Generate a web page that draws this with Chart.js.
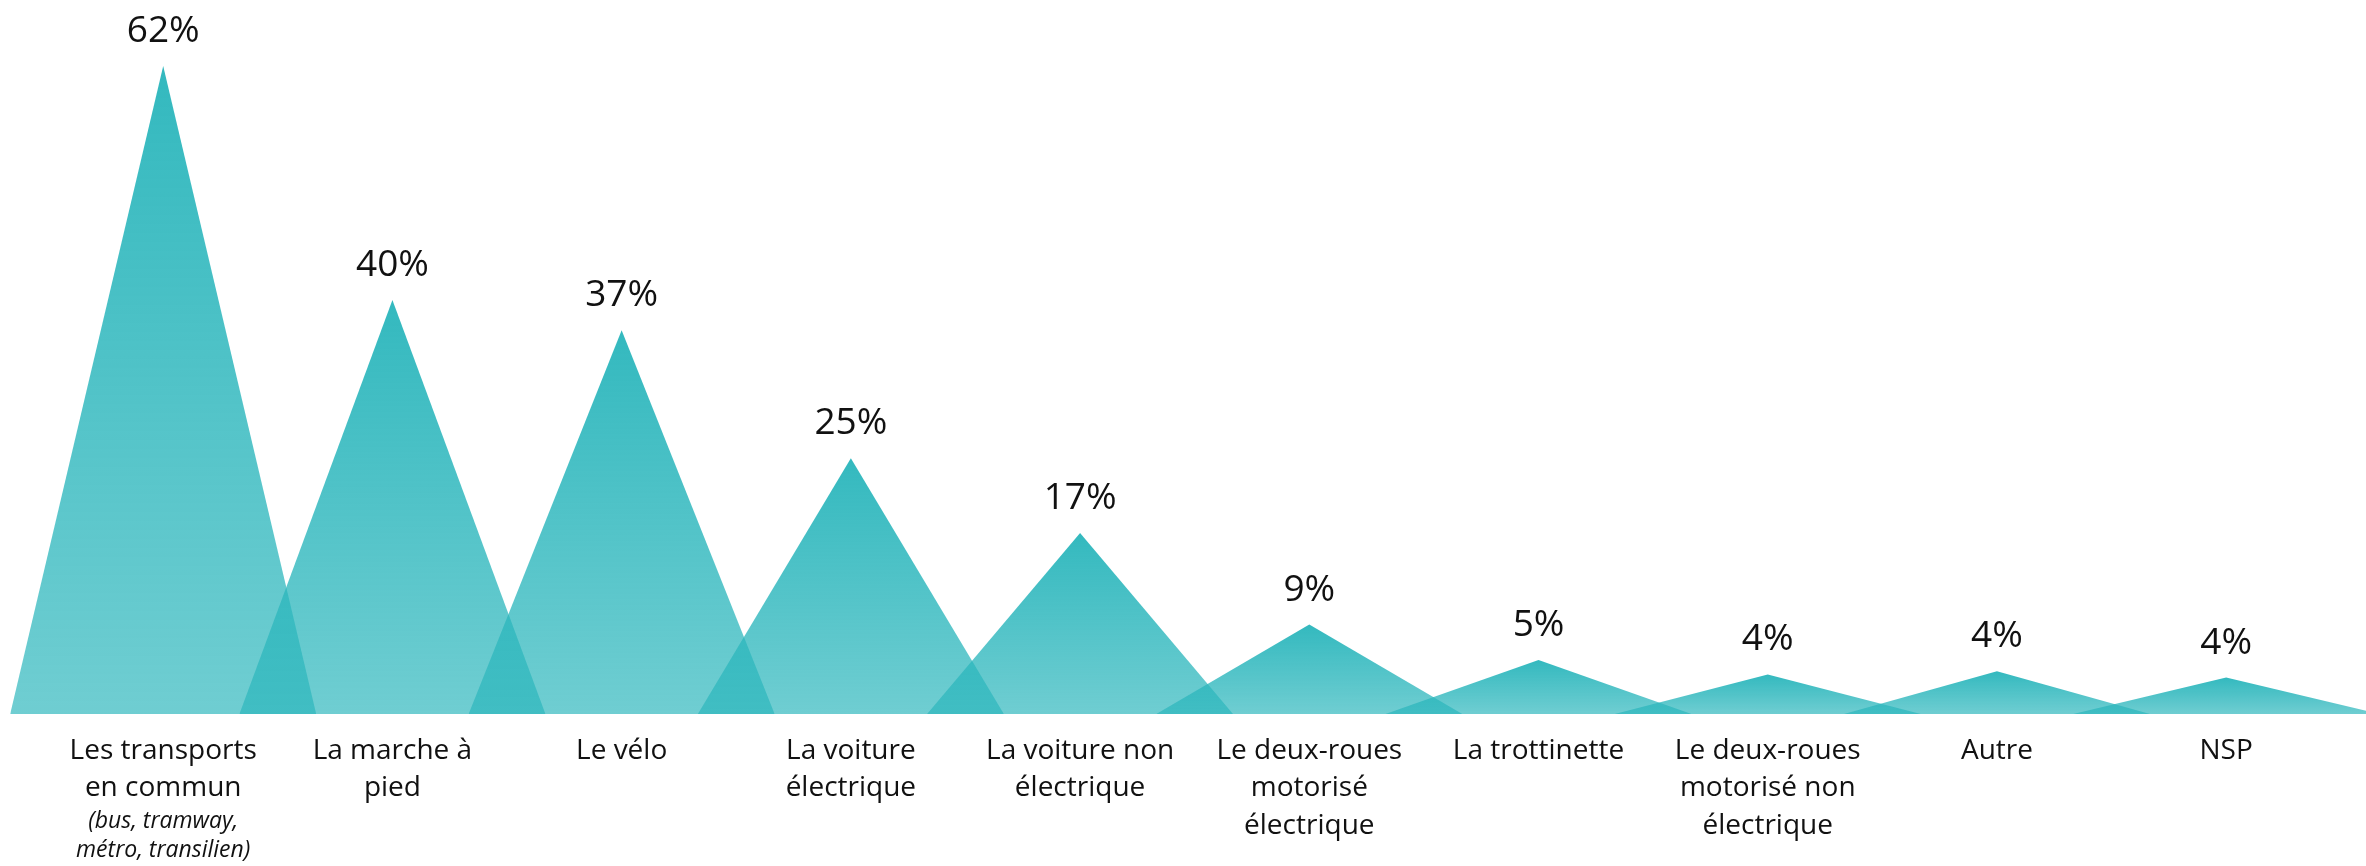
<!DOCTYPE html>
<html lang="fr">
<head>
<meta charset="utf-8">
<title>Modes de transport</title>
<script src="https://cdn.jsdelivr.net/npm/chart.js@4.4.1/dist/chart.umd.min.js"></script>
<style>
  html, body { margin: 0; padding: 0; background: #fff; }
  #wrap { width: 2366px; height: 866px; position: relative; }
</style>
</head>
<body>
<div id="wrap"><canvas id="chart"></canvas></div>
<script>
const categories = [
    ["Les transports", "en commun"],
    ["La marche à", "pied"],
    ["Le vélo"],
    ["La voiture", "électrique"],
    ["La voiture non", "électrique"],
    ["Le deux-roues", "motorisé", "électrique"],
    ["La trottinette"],
    ["Le deux-roues", "motorisé non", "électrique"],
    ["Autre"],
    ["NSP"]
];
// italic note under the first category
const subLabel = ["(bus, tramway,", "métro, transilien)"];
// shares in %, read from the triangle heights (labels are rounded)
const values = [62.3, 39.8, 36.9, 24.6, 17.4, 8.6, 5.2, 3.8, 4.1, 3.5];

const HALF = 0.6675; // half base of a triangle, in category units
const FONT = "'Open Sans', sans-serif";

function triangleFill(context) {
    const chart = context.chart;
    const area = chart.chartArea;
    if (!area) return "rgba(43,182,188,0.8)";
    const v = values[context.datasetIndex];
    const yScale = chart.scales.y;
    const top = yScale.getPixelForValue(v);
    const bottom = yScale.getPixelForValue(0);
    const g = chart.ctx.createLinearGradient(0, top, 0, bottom);
    g.addColorStop(0, "rgba(43,182,188,0.96)");
    g.addColorStop(1, "rgba(43,182,188,0.68)");
    return g;
}

const datasets = values.map((v, i) => ({
    data: [
        { x: i - HALF, y: 0 },
        { x: i, y: v },
        { x: i + HALF, y: 0 }
    ],
    fill: "origin",
    backgroundColor: triangleFill,
    borderWidth: 0,
    pointRadius: 0,
    tension: 0
}));

const labelsPlugin = {
    id: "labels",
    afterDatasetsDraw(chart) {
        const { ctx, scales } = chart;
        ctx.save();
        ctx.fillStyle = "#111";
        ctx.textAlign = "center";
        ctx.textBaseline = "alphabetic";
        ctx.font = "37px " + FONT;
        values.forEach((v, i) => {
            const x = scales.x.getPixelForValue(i);
            const y = scales.y.getPixelForValue(v) - 24;
            ctx.fillText(Math.round(v) + "%", x, y);
        });
        ctx.restore();
    },
    afterDraw(chart) {
        const { ctx, scales } = chart;
        ctx.save();
        ctx.fillStyle = "#111";
        ctx.textAlign = "center";
        ctx.textBaseline = "alphabetic";
        ctx.font = "italic 23px " + FONT;
        const x = scales.x.getPixelForValue(0);
        subLabel.forEach((line, k) => {
            ctx.fillText(line, x, 828 + k * 29);
        });
        ctx.restore();
    }
};

new Chart(document.getElementById("chart"), {
    type: "line",
    data: { datasets },
    options: {
        responsive: true,
        maintainAspectRatio: false,
        animation: false,
        devicePixelRatio: 1,
        layout: { padding: 0 },
        plugins: {
            legend: { display: false },
            tooltip: { enabled: false }
        },
        scales: {
            x: {
                type: "linear",
                min: -0.712,
                max: 9.61,
                grid: { display: false, drawTicks: false },
                border: { display: false },
                afterBuildTicks: (scale) => {
                    scale.ticks = categories.map((_, i) => ({ value: i }));
                },
                afterFit: (scale) => {
                    scale.height = 152;
                },
                ticks: {
                    autoSkip: false,
                    maxRotation: 0,
                    padding: 18,
                    color: "#111",
                    font: { family: FONT, size: 28, lineHeight: 1.34 },
                    callback: (value) => categories[value] || ""
                }
            },
            y: {
                display: false,
                min: 0,
                max: 68.65
            }
        }
    },
    plugins: [labelsPlugin]
});
</script>
</body>
</html>
